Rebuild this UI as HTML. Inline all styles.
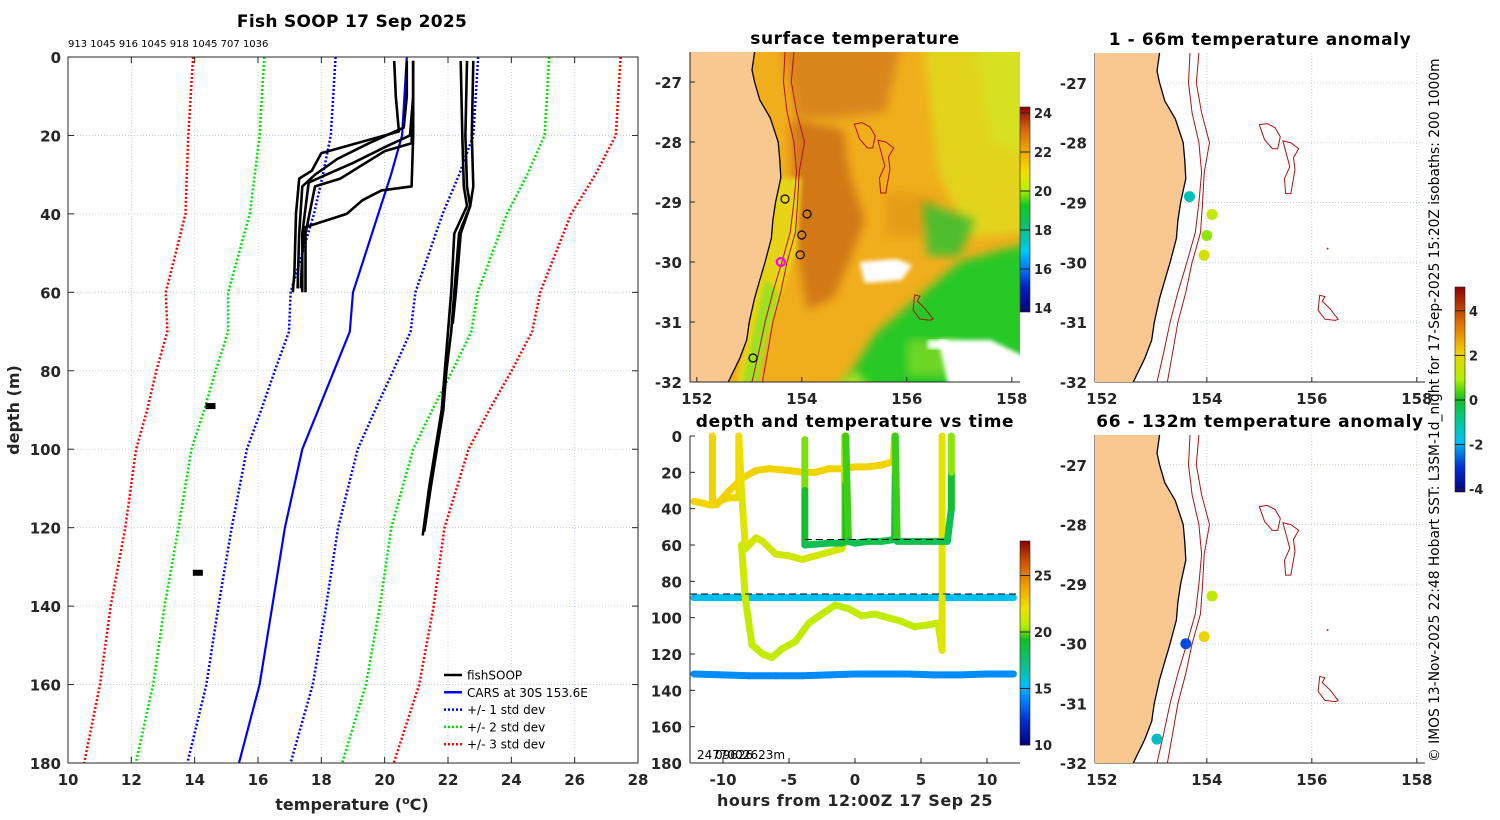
<!DOCTYPE html>
<html><head><meta charset="utf-8"><style>
html,body{margin:0;padding:0;background:#fff;width:1500px;height:820px;overflow:hidden}
svg{display:block;font-family:"DejaVu Sans","Liberation Sans",sans-serif}
</style></head><body>
<svg id="fig" width="1500" height="820" viewBox="0 0 1500 820">
<defs>
<linearGradient id="cbSst" x1="0" y1="1" x2="0" y2="0">
<stop offset="0" stop-color="#00007f"/><stop offset="0.12" stop-color="#0020c0"/><stop offset="0.22" stop-color="#0080ff"/><stop offset="0.3" stop-color="#00c8f0"/><stop offset="0.42" stop-color="#10c070"/><stop offset="0.52" stop-color="#10c820"/><stop offset="0.6" stop-color="#b8f000"/><stop offset="0.68" stop-color="#f0e000"/><stop offset="0.8" stop-color="#f0a000"/><stop offset="0.9" stop-color="#d06010"/><stop offset="1" stop-color="#900000"/>
</linearGradient>
<linearGradient id="cbTs" x1="0" y1="1" x2="0" y2="0">
<stop offset="0" stop-color="#00007f"/><stop offset="0.12" stop-color="#0030d0"/><stop offset="0.22" stop-color="#0080ff"/><stop offset="0.3" stop-color="#00c0f0"/><stop offset="0.4" stop-color="#10c080"/><stop offset="0.52" stop-color="#10c020"/><stop offset="0.58" stop-color="#b0f000"/><stop offset="0.67" stop-color="#f0e000"/><stop offset="0.78" stop-color="#f0a000"/><stop offset="0.9" stop-color="#d05000"/><stop offset="1" stop-color="#8b0000"/>
</linearGradient>
<linearGradient id="cbAn" x1="0" y1="1" x2="0" y2="0">
<stop offset="0" stop-color="#00007f"/><stop offset="0.12" stop-color="#0030d0"/><stop offset="0.25" stop-color="#00c0f0"/><stop offset="0.35" stop-color="#00c890"/><stop offset="0.45" stop-color="#10c020"/><stop offset="0.55" stop-color="#b0f000"/><stop offset="0.68" stop-color="#f0d000"/><stop offset="0.82" stop-color="#e07000"/><stop offset="1" stop-color="#8b0000"/>
</linearGradient>
<filter id="blur4"><feGaussianBlur stdDeviation="5"/></filter>
<filter id="blur2"><feGaussianBlur stdDeviation="2"/></filter>
<clipPath id="clipSst"><rect x="690" y="52" width="330" height="330"/></clipPath>
</defs>
</svg>
<script>
// ---------- Profile panel data ----------
const carsDepth = [0,20,30,40,50,60,70,80,90,100,120,140,160,180];
const carsMean  = [20.7,20.55,20.2,19.8,19.4,19.0,18.9,18.4,17.9,17.4,16.85,16.45,16.05,15.4];
const carsStd   = [2.25,2.25,2.15,2.03,2.0,1.97,1.92,1.87,1.8,1.75,1.68,1.7,1.68,1.63];
const profDepth = [
 [1,10,19,24.5,29,31,40,55,60],
 [1,10,18,22,26,30,33,45,59],
 [1,10,20,23,27,29.5,32,45,60],
 [1,10,22,24,28,31,33,45,60],
 [1,20,33,34,36.5,40,43.5,50,59],
 [1,20,33,38,45,60,70,80,90,100,110,122],
 [1,20,33,38,45,60,70,80,90,100,110,121],
 [1,20,33,38,45,60,68]
];
const profTemp = [
 [20.3,20.35,20.45,18.0,17.7,17.3,17.2,17.15,17.1],
 [20.7,20.7,20.6,19.5,18.5,17.8,17.4,17.3,17.25],
 [20.9,20.9,20.8,20.0,19.0,18.3,17.6,17.4,17.4],
 [20.9,20.9,20.85,20.0,19.2,18.6,17.8,17.5,17.5],
 [20.9,20.9,20.85,19.9,19.3,18.8,17.45,17.4,17.35],
 [22.4,22.45,22.5,22.6,22.2,22.1,22.0,21.9,21.8,21.6,21.4,21.2],
 [22.6,22.55,22.6,22.7,22.35,22.2,22.1,21.95,21.85,21.65,21.45,21.25],
 [22.8,22.75,22.8,22.7,22.4,22.25,22.15]
];
const blobTemp = [14.5,14.1];
const blobDepth = [89,131.5];
const xTicks = [10,12,14,16,18,20,22,24,26,28];
const yTicks = [0,20,40,60,80,100,120,140,160,180];

// ---------- time series data ----------
const tsHours = [
 [-12.2,-10,-8,-6,-4,-2,0,2,4,6,8,10,12],
 [-12.2,-10,-8,-6,-4,-2,0,2,4,6,8,10,12],
 [-12.2,-11.5,-11,-10.8,-10.8,-10.8,-10.5,-10,-9.5,-9,-8.8,-8.8],
 [-10.5,-9.5,-8.5,-7.5,-6.5,-5,-4,-3,-2,-1,0,1,2,2.5,2.9,3.0],
 [-8.8,-8.6,-8.3,-7.5,-7,-6,-5,-4,-3,-2,-1,-0.8,-0.8],
 [-8.6,-8.3,-7.8,-7,-6.3,-5.5,-4.5,-3.5,-2.5,-1.5,-0.5,0.5,1.5,2.5,3.5,4.5,5.5,6.3,6.6,6.6],
 [-3.8,-3.8,-3.8,-2,-1,-0.7,-0.7,-0.7,-0.5,0,1,2,3,3.05,3.05,3.2,4,5,6,7,7.3,7.3,7.3]
];
const tsDepth = [
 [89,89,89,89,89,89,89,89,89,89,89,89,89],
 [131,131.5,132,132,132,131.5,131,131,131,131.5,131.5,131,131],
 [36,37,38,38,0,38,37,35,34,34,33,0],
 [38,30,23,19,18,19,20,20,18,18,17,17,16,15,14,0],
 [0,30,62,56,58,65,66,68,66,64,62,58,0],
 [60,90,115,120,122,117,113,103,98,93,95,99,98,100,102,105,104,103,118,0],
 [2,30,60,59,59,58,25,0,58,59,58,58,57,20,0,58,58,58,58,58,40,20,0]
];
const tsTemp = [
 [15.5,15.5,15.5,15.5,15.5,15.5,15.5,15.5,15.5,15.5,15.5,15.5,15.5],
 [14.3,14.3,14.3,14.2,14.2,14.3,14.3,14.3,14.3,14.3,14.3,14.3,14.3],
 [22.3,22.3,22.3,22.3,22.3,22.3,22.3,22.3,22.3,22.3,22.3,22.3],
 [22.4,22.4,22.4,22.4,22.4,22.4,22.4,22.4,22.4,22.4,22.4,22.4,22.4,22.4,22.4,22.4],
 [22.3,21.8,21.4,21.3,21.3,21.3,21.3,21.3,21.3,21.3,21.3,21.3,22],
 [21.2,21,20.9,20.9,20.9,20.9,20.9,20.9,20.9,20.9,20.9,20.9,20.9,20.9,20.9,20.9,20.9,21,21.2,22.2],
 [20.5,19.5,18,18,18,18,19.5,20.8,18,18,18,18,18,19,20.8,18,18,18,18,18,18,19.5,20.8]
];
const tsTicksX = [-10,-5,0,5,10];
const tsTicksY = [0,20,40,60,80,100,120,140,160,180];

// ---------- map data ----------
const coastLat = [-26.5,-26.8,-27.0,-27.3,-27.6,-28.0,-28.3,-28.6,-29.0,-29.3,-29.6,-30.0,-30.3,-30.6,-31.0,-31.3,-31.6,-32.0];
const coastLon = [153.1,153.05,153.1,153.2,153.4,153.55,153.58,153.6,153.5,153.45,153.42,153.3,153.2,153.1,153.0,152.95,152.82,152.6];
const iso200Lat = [-26.5,-27.0,-27.5,-28.0,-28.5,-29.0,-29.5,-30.0,-30.5,-31.0,-31.5,-32.0];
const iso200Lon = [153.68,153.65,153.72,153.85,153.9,153.85,153.78,153.62,153.45,153.3,153.18,153.05];
const iso1000Lon = [153.85,153.8,153.9,154.05,153.95,153.92,153.88,153.72,153.6,153.45,153.35,153.25];
const smLon = [[155.0,155.15,155.3,155.4,155.35,155.25,155.1,155.0],[155.45,155.6,155.75,155.65,155.68,155.6,155.5,155.48,155.58,155.45],[156.15,156.25,156.2,156.35,156.5,156.45,156.25,156.12,156.15]];
const smLat = [[-27.7,-27.68,-27.75,-27.9,-28.1,-28.1,-27.95,-27.7],[-27.97,-28.0,-28.1,-28.25,-28.45,-28.85,-28.85,-28.6,-28.4,-27.97],[-30.55,-30.57,-30.65,-30.78,-30.95,-30.97,-30.95,-30.8,-30.55]];
const stnLon = [153.68,154.1,154.0,153.97,153.07];
const stnLat = [-28.95,-29.2,-29.55,-29.88,-31.6];
const an1Lon = [153.67,154.1,154.0,153.95];
const an1Lat = [-28.9,-29.2,-29.55,-29.88];
const an1Val = [-1.4,1.3,0.8,1.6];
const an2Lon = [154.1,153.95,153.6,153.05];
const an2Lat = [-29.2,-29.88,-30.0,-31.6];
const an2Val = [1.2,1.9,-2.9,-1.5];

const NS='http://www.w3.org/2000/svg';
const svg=document.getElementById('fig');
function el(tag,attrs,parent){const e=document.createElementNS(NS,tag);for(const k in attrs)e.setAttribute(k,attrs[k]);(parent||svg).appendChild(e);return e;}
function txt(x,y,s,attrs){const e=el('text',Object.assign({x:x,y:y},attrs||{}));e.textContent=s;return e;}

function lerpc(stops,v){
 if(v<=stops[0][0])return 'rgb('+stops[0][1].join(',')+')';
 for(let i=1;i<stops.length;i++){if(v<=stops[i][0]){const a=stops[i-1],b=stops[i],f=(v-a[0])/(b[0]-a[0]);
  const ca=a[1],cb=b[1];return 'rgb('+ca.map((c,j)=>Math.round(c+(cb[j]-c)*f)).join(',')+')';}}
 return 'rgb('+stops[stops.length-1][1].join(',')+')';
}
const tsStops=[[10,[0,0,127]],[12,[0,48,208]],[14,[0,128,255]],[15.5,[0,192,240]],[17,[16,192,128]],[19,[16,192,32]],[20.5,[176,240,0]],[22,[240,224,0]],[24,[240,160,0]],[26,[208,80,0]],[28,[139,0,0]]];
const anStops=[[-5,[0,0,127]],[-3,[0,64,220]],[-2,[0,180,240]],[-1,[0,200,150]],[0,[16,192,32]],[1,[176,240,0]],[2,[240,210,0]],[3.5,[224,112,0]],[5,[139,0,0]]];

const BOLD={'font-weight':'bold','fill':'#262626'};
const TITLE={'font-size':17,'font-weight':'bold','text-anchor':'middle',fill:'#000','letter-spacing':'0.6'};

// ================= LEFT PROFILE PANEL =================
const L={x0:68,x1:638,y0:57,y1:763};
const px=t=>L.x0+(t-10)*(L.x1-L.x0)/18;
const py=d=>L.y0+d*(L.y1-L.y0)/180;
const gL=el('g',{});

xTicks.forEach(t=>{el('line',{x1:px(t),x2:px(t),y1:L.y0,y2:L.y1,stroke:'#b8c4e0','stroke-width':0.8,'stroke-dasharray':'1 2'},gL);});
yTicks.forEach(d=>{el('line',{x1:L.x0,x2:L.x1,y1:py(d),y2:py(d),stroke:'#b8c4e0','stroke-width':0.8,'stroke-dasharray':'1 2'},gL);});
function pline(temps,depths,attrs,name){const pts=temps.map((t,i)=>px(t).toFixed(1)+','+py(depths[i]).toFixed(1)).join(' ');
 const p=el('polyline',Object.assign({points:pts,fill:'none'},attrs),gL);return p;}
const stdColors=['#0000ff','#00e000','#ff0000'];
[1,2,3].forEach(k=>{
 pline(carsMean.map((m,i)=>m-k*carsStd[i]),carsDepth,{stroke:stdColors[k-1],'stroke-width':2.5,'stroke-dasharray':'2 2'},'std-'+k+'-lower');
 pline(carsMean.map((m,i)=>m+k*carsStd[i]),carsDepth,{stroke:stdColors[k-1],'stroke-width':2.5,'stroke-dasharray':'2 2'},'std-'+k+'-upper');
});
pline(carsMean,carsDepth,{stroke:'#0000ff','stroke-width':2.2},'cars-mean-profile');
profTemp.forEach((t,i)=>pline(t,profDepth[i],{stroke:'#000','stroke-width':2.6,'stroke-linejoin':'round'},'fishsoop-profile-'+(i+1)));
blobTemp.forEach((t,i)=>{const r=el('rect',{x:px(t)-5,y:py(blobDepth[i])-3,width:10,height:6,fill:'#000'},gL);});
el('rect',{x:L.x0,y:L.y0,width:L.x1-L.x0,height:L.y1-L.y0,fill:'none',stroke:'#262626','stroke-width':1},gL);
xTicks.forEach(t=>{el('line',{x1:px(t),x2:px(t),y1:L.y1,y2:L.y1-6,stroke:'#262626'},gL);el('line',{x1:px(t),x2:px(t),y1:L.y0,y2:L.y0+6,stroke:'#262626'},gL);
 const e=txt(px(t),L.y1+22,String(t),Object.assign({'font-size':15,'text-anchor':'middle'},BOLD));});
yTicks.forEach(d=>{el('line',{x1:L.x0,x2:L.x0+6,y1:py(d),y2:py(d),stroke:'#262626'},gL);el('line',{x1:L.x1,x2:L.x1-6,y1:py(d),y2:py(d),stroke:'#262626'},gL);
 const e=txt(L.x0-7,py(d)+6,String(d),Object.assign({'font-size':15,'text-anchor':'end'},BOLD));});
let e;
e=txt(352,27,'Fish SOOP 17 Sep 2025',{'font-size':17,'font-weight':'bold','text-anchor':'middle',fill:'#000','letter-spacing':'0.3'});
e=txt(68,47,'913 1045 916 1045 918 1045 707 1036',{'font-size':10,fill:'#000'});
e=txt(352,810,'',Object.assign({'font-size':16,'text-anchor':'middle'},BOLD));
e.innerHTML='temperature (<tspan dy="-6" font-size="11">o</tspan><tspan dy="6">C)</tspan>';

e=txt(0,0,'depth (m)',Object.assign({'font-size':16,'text-anchor':'middle',transform:'translate(19,410) rotate(-90)'},BOLD));
const legItems=[['fishSOOP','#000',null],['CARS at 30S 153.6E','#0000ff',null],['+/- 1 std dev','#0000ff','2 2'],['+/- 2 std dev','#00e000','2 2'],['+/- 3 std dev','#ff0000','2 2']];
const gLeg=el('g',{},gL);
legItems.forEach((it,i)=>{const y=675+i*17.3;
 const ln=el('line',{x1:444,x2:462,y1:y,y2:y,stroke:it[1],'stroke-width':2.5},gLeg);if(it[2])ln.setAttribute('stroke-dasharray',it[2]);
 const t=txt(467,y+4.5,it[0],{'font-size':12,fill:'#000'});gLeg.appendChild(t);});

// ================= MAP HELPERS =================
function mapFns(X0,Y0,h){const sx=lon=>X0+(lon-151.87)*52.5;const sy=lat=>Y0+(-26.5-lat)*(h/5.5);return [sx,sy];}
function poly(lons,lats,sx,sy){return lons.map((l,i)=>sx(l).toFixed(1)+','+sy(lats[i]).toFixed(1)).join(' ');}
function drawLand(g,sx,sy,X0,Y0,h){
 const pts=poly(coastLon,coastLat,sx,sy)+' '+X0+','+(Y0+h)+' '+X0+','+Y0;
 el('polygon',{points:pts,fill:'#f9c890',stroke:'none'},g);
 el('polyline',{points:poly(coastLon,coastLat,sx,sy),fill:'none',stroke:'#000','stroke-width':1.3},g);
}
function drawIso(g,sx,sy){
 el('polyline',{points:poly(iso200Lon,iso200Lat,sx,sy),fill:'none',stroke:'#b01010','stroke-width':1},g);
 el('polyline',{points:poly(iso1000Lon,iso200Lat,sx,sy),fill:'none',stroke:'#b01010','stroke-width':1},g);
 smLon.forEach((ln,i)=>{el('polygon',{points:poly(ln,smLat[i],sx,sy),fill:'none',stroke:'#b01010','stroke-width':1},g);});
}
function mapAxes(g,sx,sy,X0,Y0,h,grid){
 if(grid){[154,156,158].forEach(l=>el('line',{x1:sx(l),x2:sx(l),y1:Y0,y2:Y0+h,stroke:'#b8c4e0','stroke-width':0.8,'stroke-dasharray':'1 2'},g));
  [-27,-28,-29,-30,-31].forEach(l=>el('line',{x1:X0,x2:X0+330,y1:sy(l),y2:sy(l),stroke:'#b8c4e0','stroke-width':0.8,'stroke-dasharray':'1 2'},g));}
 el('line',{x1:X0,x2:X0+330,y1:Y0+h,y2:Y0+h,stroke:'#262626'},g);
 el('line',{x1:X0,x2:X0,y1:Y0,y2:Y0+h,stroke:'#262626'},g);
 [152,154,156,158].forEach(l=>{el('line',{x1:sx(l),x2:sx(l),y1:Y0+h,y2:Y0+h-5,stroke:'#262626'},g);
  const t=txt(sx(l),Y0+h+22,String(l),Object.assign({'font-size':15,'text-anchor':'middle'},BOLD));g.appendChild(t);});
 [-27,-28,-29,-30,-31,-32].forEach(l=>{el('line',{x1:X0,x2:X0+5,y1:sy(l),y2:sy(l),stroke:'#262626'},g);
  const t=txt(X0-8,sy(l)+6,String(l),Object.assign({'font-size':15,'text-anchor':'end'},BOLD));g.appendChild(t);});
}

// ================= SST MAP =================
(function(){
 const X0=690,Y0=52,h=330;const [sx,sy]=mapFns(X0,Y0,h);
 const g=el('g',{});
 const gi=el('g',{'clip-path':'url(#clipSst)'},g);
 el('rect',{x:X0,y:Y0,width:330,height:h,fill:'#f0ae1c'},gi);
 const P=(lons,lats,fill,f,op)=>{const p=el('polygon',{points:poly(lons,lats,sx,sy),fill:fill,filter:f||'url(#blur4)',opacity:op||1},gi);};
 P([156.3,158.3,158.3,157.2,156.6],[-26.3,-26.3,-29.5,-29.6,-28.5],'#e2d41a');
 P([157.3,158.3,158.3,157.6],[-26.3,-26.3,-28.2,-28.0],'#d8e020');
 P([153.6,155.9,155.6,154.6,153.9],[-26.3,-26.3,-27.5,-27.6,-27.6],'#d8861a');
 P([153.8,154.8,154.9,155.2,154.9,154.6,154.1,153.85],[-27.6,-27.8,-28.5,-29.3,-30.0,-30.6,-30.8,-29.5],'#d27814');
 P([155.6,156.6,156.3,155.6],[-28.8,-28.9,-29.6,-29.6],'#e39a18',null,0.8);
 P([153.5,154.0,153.9,153.5,153.2,152.9,152.7],[-28.6,-28.6,-29.8,-30.8,-31.5,-32.3,-32.3],'#e8d418','url(#blur2)');
 P([153.3,153.55,153.3,153.1,152.8],[-30.3,-30.5,-31.4,-32.3,-32.3],'#9ee020','url(#blur2)');
 P([154.6,155.4,156.2,157.0,157.8,158.3,158.3,154.4],[-32.3,-31.2,-30.6,-30.0,-29.8,-29.7,-32.3,-32.3],'#28c828');
 P([154.4,155.0,155.5,154.9],[-32.3,-31.8,-32.3,-32.3],'#b8e020');
 P([156.3,157.3,157.0,156.4],[-29.0,-29.3,-29.9,-29.9],'#30c030',null,0.85);
 P([156.0,157.0,156.8,156.0],[-31.3,-31.3,-31.9,-31.9],'#a0e028',null,0.6);
 P([155.1,155.8,156.1,155.9,155.2],[-30.0,-29.95,-30.05,-30.3,-30.35],'#ffffff','url(#blur2)');
 P([156.6,157.6,158.3,158.3,156.8],[-31.3,-31.3,-31.6,-32.3,-32.1],'#ffffff','url(#blur2)');
 P([156.4,156.8,156.7,156.4],[-31.3,-31.3,-31.45,-31.45],'#ffffff','url(#blur2)');
 drawLand(gi,sx,sy,X0,Y0,h);
 drawIso(gi,sx,sy);
 stnLon.forEach((l,i)=>{const c=el('circle',{cx:sx(l),cy:sy(stnLat[i]),r:4,fill:'none',stroke:'#000','stroke-width':1.2},gi);});
 const m=el('circle',{cx:sx(153.6),cy:sy(-30.0),r:4,fill:'none',stroke:'#ff00ff','stroke-width':2.2},gi);
 mapAxes(g,sx,sy,X0,Y0,h,false);
 const t=txt(855,44,'surface temperature',TITLE);g.appendChild(t);
 const cb=el('rect',{x:1020,y:107,width:10,height:205,fill:'url(#cbSst)',stroke:'#262626','stroke-width':0.6},g);
 [14,16,18,20,22,24].forEach(v=>{const y=308-(v-14)*19.5;el('line',{x1:1020,x2:1030,y1:y,y2:y,stroke:'#262626'},g);
  const l=txt(1034,y+5,String(v),Object.assign({'font-size':13},BOLD));g.appendChild(l);});
})();

// ================= TIME SERIES =================
(function(){
 const X0=690,X1=1020,Y0=436,Y1=763;
 const hx=h=>X0+(h+12.5)*(X1-X0)/25;const hy=d=>Y0+d*(Y1-Y0)/180;
 const g=el('g',{});
 tsHours.forEach((hs,s)=>{const gs=el('g',{},g);
  for(let i=1;i<hs.length;i++){const c=lerpc(tsStops,(tsTemp[s][i-1]+tsTemp[s][i])/2);
   el('line',{x1:hx(hs[i-1]),y1:hy(tsDepth[s][i-1]),x2:hx(hs[i]),y2:hy(tsDepth[s][i]),stroke:c,'stroke-width':7,'stroke-linecap':'round'},gs);}});
 el('line',{x1:X0,x2:X1,y1:hy(87),y2:hy(87),stroke:'#000','stroke-width':1,'stroke-dasharray':'7 4'},g);
 el('line',{x1:hx(-3.8),x2:hx(7),y1:hy(57),y2:hy(57),stroke:'#000','stroke-width':1,'stroke-dasharray':'7 4'},g);
 el('line',{x1:X0,x2:X1,y1:Y1,y2:Y1,stroke:'#262626'},g);el('line',{x1:X0,x2:X0,y1:Y0,y2:Y1,stroke:'#262626'},g);
 tsTicksX.forEach(t=>{el('line',{x1:hx(t),x2:hx(t),y1:Y1,y2:Y1-5,stroke:'#262626'},g);
  const l=txt(hx(t),Y1+22,String(t),Object.assign({'font-size':15,'text-anchor':'middle'},BOLD));g.appendChild(l);});
 tsTicksY.forEach(d=>{el('line',{x1:X0,x2:X0+5,y1:hy(d),y2:hy(d),stroke:'#262626'},g);
  const l=txt(X0-8,hy(d)+6,String(d),Object.assign({'font-size':15,'text-anchor':'end'},BOLD));g.appendChild(l);});
 let t=txt(855,427,'depth and temperature vs time',TITLE);g.appendChild(t);
 t=txt(855,806,'hours from 12:00Z 17 Sep 25',Object.assign({'font-size':16,'text-anchor':'middle','letter-spacing':'0.5'},BOLD));g.appendChild(t);
 t=txt(697,759,'2477002623m',{'font-size':12,fill:'#000'});g.appendChild(t);
 t=txt(715,759,'09626',{'font-size':12,fill:'#000'});g.appendChild(t);
 const cb=el('rect',{x:1020,y:541,width:10,height:204,fill:'url(#cbTs)',stroke:'#262626','stroke-width':0.6},g);
 [10,15,20,25].forEach(v=>{const y=745-(v-10)*11.3;el('line',{x1:1020,x2:1030,y1:y,y2:y,stroke:'#262626'},g);
  const l=txt(1034,y+5,String(v),Object.assign({'font-size':13},BOLD));g.appendChild(l);});
})();

// ================= ANOMALY MAPS =================
function anomMap(Y0,h,title,lons,lats,vals,name){
 const X0=1095;const [sx,sy]=mapFns(X0,Y0,h);
 const g=el('g',{});
 mapAxes(g,sx,sy,X0,Y0,h,true);
 drawLand(g,sx,sy,X0,Y0,h);drawIso(g,sx,sy);
 el('circle',{cx:sx(156.3),cy:sy(-29.77),r:1,fill:'#c03000'},g);
 lons.forEach((l,i)=>{const c=el('circle',{cx:sx(l),cy:sy(lats[i]),r:5.5,fill:lerpc(anStops,vals[i])},g);});
 const t=txt(1260,Y0-8,title,TITLE);g.appendChild(t);
}
anomMap(53,329,'1 - 66m temperature anomaly',an1Lon,an1Lat,an1Val,'anomaly-map-shallow');
anomMap(435,328,'66 - 132m temperature anomaly',an2Lon,an2Lat,an2Val,'anomaly-map-deep');
(function(){
 const g=el('g',{});
 const cb=el('rect',{x:1455,y:287,width:10,height:205,fill:'url(#cbAn)',stroke:'#262626','stroke-width':0.6},g);
 [-4,-2,0,2,4].forEach(v=>{const y=400-v*22.3;el('line',{x1:1455,x2:1465,y1:y,y2:y,stroke:'#262626'},g);
  const l=txt(1469,y+5,String(v),Object.assign({'font-size':13},BOLD));g.appendChild(l);});
 const t=txt(0,0,'© IMOS 13-Nov-2025 22:48 Hobart SST: L3SM-1d_night for 17-Sep-2025 15:20Z isobaths: 200  1000m',{'font-size':13.8,fill:'#000','text-anchor':'start',transform:'translate(1439,762) rotate(-90)','xml:space':'preserve'});
 g.appendChild(t);
})();
</script>
</body></html>
